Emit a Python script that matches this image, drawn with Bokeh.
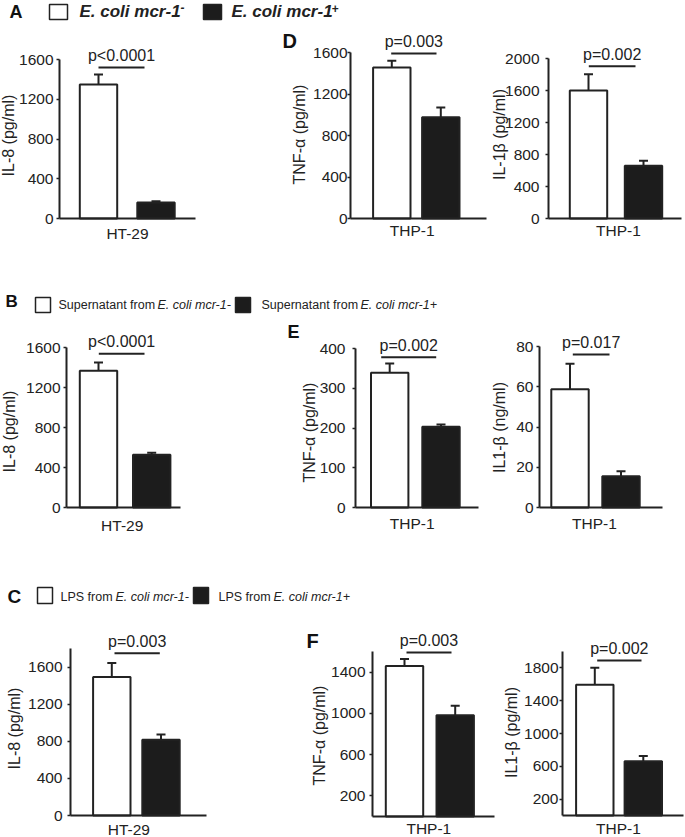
import math
from bokeh.plotting import figure
from bokeh.models import Range1d, FixedTicker, Label, Whisker, TeeHead, ColumnDataSource
from bokeh.layouts import row, column
from bokeh.embed import file_html
from bokeh.resources import INLINE

FONT = "Liberation Sans"
INK = "#222222"
BLACK_FILL = "#1c1c1c"
MID = 0.35   # distance (in em) from the text baseline up to the middle of the em box

# ---------------- data ----------------
groups = ["E. coli mcr-1-", "E. coli mcr-1+"]
bar_colors = ["white", BLACK_FILL]

a_il8 = [1348, 161]
a_il8_err = [101, 13]
d_tnf = [1455, 975]
d_tnf_err = [65, 96]
d_il1b = [1600, 658]
d_il1b_err = [203, 63]
b_il8 = [1368, 528]
b_il8_err = [83, 20]
e_tnf = [339, 203]
e_tnf_err = [23, 6]
e_il1b = [58.7, 15.5]
e_il1b_err = [12.7, 2.5]
c_il8 = [1492, 817]
c_il8_err = [151, 57]
f_tnf = [1460, 983]
f_tnf_err = [68, 90]
f_il1b = [1595, 663]
f_il1b_err = [207, 64]

ticks_1600 = [0, 400, 800, 1200, 1600]
ticks_2000 = [0, 400, 800, 1200, 1600, 2000]
ticks_400 = [0, 100, 200, 300, 400]
ticks_80 = [0, 20, 40, 60, 80]
ticks_f_tnf = [200, 600, 1000, 1400]
ticks_f_il1b = [200, 600, 1000, 1400, 1800]

p_a = "p<0.0001"
p_d_tnf = "p=0.003"
p_d_il1b = "p=0.002"
p_b = "p<0.0001"
p_e_tnf = "p=0.002"
p_e_il1b = "p=0.017"
p_c = "p=0.003"
p_f_tnf = "p=0.003"
p_f_il1b = "p=0.002"


def make_panel(canvas, axes_box, centers, ymax, ticks, vals, errs, ylabel, xlabel,
               ptext, bracket, ylab, xlab, standoff, letter=None, bar_px=37.4):
    """canvas: (x, y, w, h) of the figure on the page; axes_box: (L, T, R, B) page
    pixels of the y-axis line, top of the value scale, end of the x-axis, zero line.
    Text positions are given as page-pixel baselines."""
    cx, cy, w, h = canvas
    L, T, R, B = axes_box
    c0, c1 = centers
    s = c1 - c0                      # px per category step
    ky = (B - T) / ymax              # px per value unit

    def X(px):
        return (px - c0) / s

    def Y(py):
        return (B - py) / ky

    p = figure(width=w, height=h,
               x_range=Range1d(X(cx), X(cx + w)),
               y_range=Range1d(Y(cy + h), Y(cy)),
               output_backend="svg", toolbar_location=None,
               min_border=0, min_border_left=0, min_border_right=0,
               min_border_top=0, min_border_bottom=0,
               outline_line_color=None, background_fill_color="white",
               border_fill_color="white")
    p.grid.visible = False

    ya = p.yaxis[0]
    ya.fixed_location = X(L)
    ya.bounds = (0, ymax)
    ya.ticker = FixedTicker(ticks=ticks)
    ya.axis_line_width = 2
    ya.axis_line_color = INK
    ya.major_tick_line_color = INK
    ya.major_tick_line_width = 1.5
    ya.major_tick_in = 0
    ya.major_tick_out = 3
    ya.minor_tick_line_color = None
    ya.major_label_standoff = standoff
    ya.major_label_text_font = FONT
    ya.major_label_text_font_size = "15.5px"
    ya.major_label_text_color = INK

    xa = p.xaxis[0]
    xa.fixed_location = 0
    xa.bounds = (X(L), X(R))
    xa.ticker = FixedTicker(ticks=[])
    xa.axis_line_width = 2
    xa.axis_line_color = INK
    xa.major_tick_line_color = None
    xa.minor_tick_line_color = None
    xa.major_label_text_font_size = "0px"

    xs = list(range(len(vals)))
    src = ColumnDataSource(dict(
        x=xs, top=vals, upper=[v + e for v, e in zip(vals, errs)],
        color=bar_colors, group=groups))
    p.vbar(x="x", top="top", bottom=0, width=bar_px / s, source=src,
           fill_color="color", line_color=INK, line_width=2)
    p.add_layout(Whisker(source=src, base="x", lower="top", upper="upper",
                         dimension="height", line_color=INK, line_width=2,
                         upper_head=TeeHead(size=9, line_color=INK, line_width=2),
                         lower_head=TeeHead(size=1, line_color=None)))

    bx0, bx1, by = X(bracket[0]), X(bracket[1]), Y(bracket[2])
    p.segment(x0=[bx0], x1=[bx1], y0=[by], y1=[by], line_color=INK, line_width=2)
    p.add_layout(Label(x=(bx0 + bx1) / 2, y=Y(bracket[2] - 6.5 - MID * 16), text=ptext,
                       text_align="center", text_baseline="middle",
                       text_font=FONT, text_font_size="16px", text_color=INK))

    p.add_layout(Label(x=X(ylab[0] - MID * 16), y=Y(ylab[1]), text=ylabel,
                       angle=math.pi / 2, text_align="center", text_baseline="middle",
                       text_font=FONT, text_font_size="16px", text_color=INK))
    p.add_layout(Label(x=X(xlab[0]), y=Y(xlab[1] - MID * 15.5), text=xlabel,
                       text_align="center", text_baseline="middle",
                       text_font=FONT, text_font_size="15.5px", text_color=INK))
    if letter is not None:
        txt, lx, lbase, lsize = letter
        p.add_layout(Label(x=X(lx), y=Y(lbase - MID * lsize), text=txt,
                           text_align="left", text_baseline="middle",
                           text_font=FONT, text_font_style="bold",
                           text_font_size=f"{lsize}px", text_color="#111111"))
    return p


def legend_fig(h):
    p = figure(width=685, height=h, x_range=Range1d(0, 685), y_range=Range1d(h, 0),
               x_axis_type=None, y_axis_type=None, output_backend="svg",
               toolbar_location=None, min_border=0, outline_line_color=None,
               background_fill_color="white", border_fill_color="white")
    p.grid.visible = False
    return p


def lab(p, x, ymid, text, size, style="normal", color=INK):
    p.add_layout(Label(x=x, y=ymid, text=text, text_font=FONT, text_font_size=size,
                       text_font_style=style, text_baseline="middle",
                       text_align="left", text_color=color))


# ---------------- legend rows (positions are vertical text centres) ----------------
legA = legend_fig(24)
lab(legA, 9, 11.5, "A", "18px", "bold", color="#111111")
legA.quad(left=[49, 203], right=[67, 221], top=[4, 4], bottom=[19, 19],
          fill_color=bar_colors, line_color=INK, line_width=1.5)
lab(legA, 79, 11.3, "E. coli mcr-1", "17px", "bold italic")
lab(legA, 180, 6.8, "-", "12px", "bold italic")
lab(legA, 231, 11.3, "E. coli mcr-1", "17px", "bold italic")
lab(legA, 331, 7.8, "+", "12px", "bold italic")

legB = legend_fig(72)
lab(legB, 5, 50.9, "B", "17px", "bold", color="#111111")
legB.quad(left=[35, 235], right=[50, 250], top=[47, 47], bottom=[62, 62],
          fill_color=bar_colors, line_color=INK, line_width=1.5)
lab(legB, 58, 54.5, "Supernatant from ", "12.5px")
lab(legB, 157, 54.5, "E. coli mcr-1-", "12.5px", "italic")
lab(legB, 261, 54.5, "Supernatant from ", "12.5px")
lab(legB, 360, 54.5, "E. coli mcr-1+", "12.5px", "italic")

legC = legend_fig(70)
lab(legC, 7, 50.5, "C", "19px", "bold", color="#111111")
legC.quad(left=[37, 193], right=[52, 208], top=[42, 42], bottom=[58, 58],
          fill_color=bar_colors, line_color=INK, line_width=1.5)
lab(legC, 60, 51, "LPS from ", "12.5px")
lab(legC, 115, 51, "E. coli mcr-1-", "12.5px", "italic")
lab(legC, 218, 51, "LPS from ", "12.5px")
lab(legC, 273, 51, "E. coli mcr-1+", "12.5px", "italic")

# ---------------- chart panels ----------------
pA = make_panel((0, 24, 280, 226), (59, 59, 195, 218), (98, 155.5), 1600, ticks_1600,
                a_il8, a_il8_err, "IL-8 (pg/ml)", "HT-29", p_a, (98, 144, 67),
                (14, 135), (127, 238), 3)
pDl = make_panel((280, 24, 207, 226), (350, 52, 486, 218), (391.3, 440.3), 1600, ticks_1600,
                 d_tnf, d_tnf_err, "TNF-α (pg/ml)", "THP-1", p_d_tnf, (390.7, 436, 53),
                 (305, 134), (411.7, 235), 0, letter=("D", 282, 47, 20))
pDr = make_panel((487, 24, 198, 226), (548, 58, 681, 218), (588, 643), 2000, ticks_2000,
                 d_il1b, d_il1b_err, "IL-1β (pg/ml)", "THP-1", p_d_il1b, (588.3, 635, 65.7),
                 (505, 134), (618, 235), 6)

pB = make_panel((0, 322, 280, 223), (66, 347, 180, 507), (98, 151.2), 1600, ticks_1600,
                b_il8, b_il8_err, "IL-8 (pg/ml)", "HT-29", p_b, (98.3, 144, 353.3),
                (15, 431), (121.7, 530), 3)
pEl = make_panel((280, 322, 205, 223), (355, 348, 478, 507), (389.2, 440.5), 400, ticks_400,
                 e_tnf, e_tnf_err, "TNF-α (pg/ml)", "THP-1", p_e_tnf, (380.7, 435.7, 356.7),
                 (315, 432), (411.7, 528), 7, letter=("E", 287, 338, 18))
pEr = make_panel((485, 322, 200, 223), (539, 346, 662, 507), (569.5, 620.5), 80, ticks_80,
                 e_il1b, e_il1b_err, "IL1-β (ng/ml)", "THP-1", p_e_il1b, (572.3, 609, 354),
                 (505, 427), (594, 528), 3)

pC = make_panel((0, 615, 285, 222), (70, 648, 206, 815), (111.3, 160.5), 1800, ticks_1600,
                c_il8, c_il8_err, "IL-8 (pg/ml)", "HT-29", p_c, (114, 159.3, 652.7),
                (20, 728), (128.3, 834), 5)
pFl = make_panel((285, 615, 215, 222), (372, 651, 494, 816), (404, 454.7), 1600, ticks_f_tnf,
                 f_tnf, f_tnf_err, "TNF-α (pg/ml)", "THP-1", p_f_tnf, (406, 451, 652),
                 (325, 735), (428.3, 833), 4, letter=("F", 306, 647, 20))
pFr = make_panel((500, 615, 185, 222), (562, 651, 683, 815), (594.3, 642.8), 2000, ticks_f_il1b,
                 f_il1b, f_il1b_err, "IL1-β (pg/ml)", "THP-1", p_f_il1b, (596.7, 641, 660),
                 (517, 732), (618, 833), 1)

root = column(legA, row(pA, pDl, pDr, spacing=0), legB, row(pB, pEl, pEr, spacing=0),
              legC, row(pC, pFl, pFr, spacing=0), spacing=0)

open("out.html", "w").write(file_html(root, INLINE))
